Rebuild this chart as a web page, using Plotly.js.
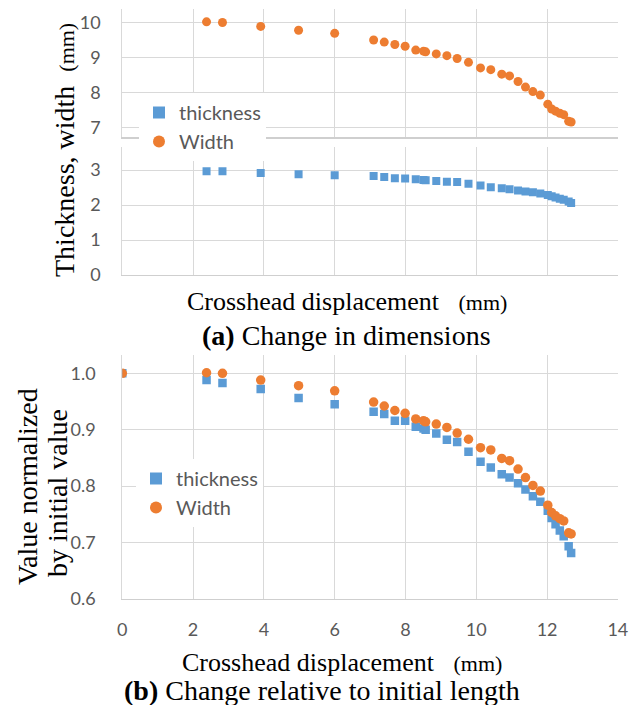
<!DOCTYPE html>
<html>
<head>
<meta charset="utf-8">
<script src="https://cdn.plot.ly/plotly-3.0.1.min.js"></script>
<style>
  html, body { margin: 0; padding: 0; background: #ffffff; }
  #chart { width: 630px; height: 705px; }
</style>
</head>
<body>
<div id="chart"></div>
<script>
// ---- data ----
const displacement = [0, 2.38, 2.83, 3.91, 4.98, 6.0, 7.10, 7.40, 7.70, 7.99, 8.29, 8.51, 8.57, 8.87, 9.17, 9.46, 9.78, 10.12, 10.41, 10.72, 10.94, 11.18, 11.39, 11.60, 11.81, 12.02, 12.13, 12.24, 12.36, 12.47, 12.61, 12.68];

// (a) dimensions in mm, measured from the second displacement value onwards
const widthMm = [10.02, 10.00, 9.89, 9.78, 9.69, 9.50, 9.44, 9.37, 9.32, 9.21, 9.18, 9.16, 9.10, 9.05, 8.97, 8.86, 8.70, 8.65, 8.52, 8.47, 8.31, 8.15, 8.02, 7.92, 7.66, 7.52, 7.46, 7.40, 7.36, 7.17, 7.15];
const thicknessMm = [2.97, 2.97, 2.92, 2.88, 2.85, 2.83, 2.80, 2.77, 2.76, 2.74, 2.72, 2.71, 2.69, 2.67, 2.66, 2.61, 2.56, 2.51, 2.48, 2.45, 2.42, 2.39, 2.37, 2.33, 2.29, 2.25, 2.22, 2.18, 2.15, 2.10, 2.06];

// (b) normalized by initial value
const widthNorm = [1.0, 1.001, 1.0, 0.988, 0.978, 0.969, 0.949, 0.942, 0.934, 0.929, 0.919, 0.916, 0.914, 0.910, 0.904, 0.894, 0.883, 0.868, 0.864, 0.849, 0.845, 0.830, 0.815, 0.801, 0.791, 0.766, 0.753, 0.747, 0.742, 0.738, 0.717, 0.715];
const thicknessNorm = [1.0, 0.988, 0.983, 0.972, 0.956, 0.945, 0.932, 0.928, 0.916, 0.916, 0.905, 0.902, 0.900, 0.893, 0.882, 0.878, 0.861, 0.843, 0.833, 0.821, 0.815, 0.805, 0.794, 0.782, 0.772, 0.756, 0.743, 0.732, 0.721, 0.711, 0.693, 0.681];

const seriesNames = ["thickness", "Width"];
const xTitle = "Crosshead displacement";
const unitText = "(mm)";
const yTitleTop = "Thickness, width";
const yTitleBottom = ["Value normalized", "by initial value"];
const captionA = ["(a)", "Change in dimensions"];
const captionB = ["(b)", "Change relative to initial length"];

// ---- styling ----
const BLUE = "#5B9BD5";
const ORANGE = "#ED7D31";
const GRID = "#D9D9D9";
const TICKFONT = { family: "Lato, Carlito, Calibri, sans-serif", size: 18, color: "#595959" };
const LEGFONT = { family: "Lato, Carlito, Calibri, sans-serif", size: 20, color: "#595959" };
const SERIF = "Liberation Serif, Times New Roman, serif";

const W = 630, H = 705;
const px = v => v / W;
const py = v => 1 - v / H;
const xDomain = [px(122.3), px(617.9)];

const dimsX = displacement.slice(1);

const traces = [
  { x: dimsX, y: thicknessMm, xaxis: "x2", yaxis: "y2", type: "scatter", mode: "markers",
    name: seriesNames[0], legend: "legend",
    marker: { symbol: "square", size: 8, color: BLUE } },
  { x: dimsX, y: widthMm, xaxis: "x", yaxis: "y", type: "scatter", mode: "markers",
    name: seriesNames[1], legend: "legend",
    marker: { symbol: "circle", size: 9, color: ORANGE } },
  { x: displacement, y: thicknessNorm, xaxis: "x3", yaxis: "y3", type: "scatter", mode: "markers",
    name: seriesNames[0], legend: "legend2",
    marker: { symbol: "square", size: 8.5, color: BLUE } },
  { x: displacement, y: widthNorm, xaxis: "x3", yaxis: "y3", type: "scatter", mode: "markers",
    name: seriesNames[1], legend: "legend2",
    marker: { symbol: "circle", size: 9.5, color: ORANGE } }
];

function xAxisBase(anchor, labels) {
  return {
    domain: xDomain, anchor: anchor, range: [0, 14.001], dtick: 2, tick0: 0,
    showgrid: true, gridcolor: GRID, gridwidth: 1, zeroline: false,
    showline: true, linecolor: "#CFCFCF", linewidth: 1.2,
    showticklabels: labels, ticks: "", tickfont: TICKFONT, ticklabelstandoff: 14
  };
}
function yAxisBase(anchor, domain, range, dtick, standoff) {
  return {
    domain: domain, anchor: anchor, range: range, dtick: dtick, tick0: 0,
    showgrid: true, gridcolor: GRID, gridwidth: 1, zeroline: false,
    showline: true, linecolor: GRID, linewidth: 1,
    ticks: "", tickfont: TICKFONT, ticklabelstandoff: standoff
  };
}

const small = s => "<span style='font-size:22px'>" + s + "</span>";
const sp = "\u00a0\u00a0\u00a0";

const layout = {
  width: W, height: H,
  margin: { l: 0, r: 0, t: 0, b: 0 },
  paper_bgcolor: "#ffffff", plot_bgcolor: "#ffffff",
  showlegend: true,
  xaxis: xAxisBase("y", false),
  yaxis: yAxisBase("x", [py(137.3), py(9.3)], [6.71, 10.38], 1, 17),
  xaxis2: xAxisBase("y2", false),
  yaxis2: yAxisBase("x2", [py(275), py(146.7)], [0, 3.67], 1, 17),
  xaxis3: xAxisBase("y3", true),
  yaxis3: Object.assign(yAxisBase("x3", [py(598.7), py(355)], [0.6, 1.0325], 0.1, 22), { tickformat: ".1f" }),
  legend: {
    x: px(139), y: py(93), xanchor: "left", yanchor: "top",
    bgcolor: "#ffffff", borderwidth: 0, itemsizing: "constant",
    font: LEGFONT, tracegroupgap: 0, itemwidth: 30
  },
  legend2: {
    x: px(136), y: py(459), xanchor: "left", yanchor: "top",
    bgcolor: "#ffffff", borderwidth: 0, itemsizing: "constant",
    font: LEGFONT, tracegroupgap: 0, itemwidth: 30
  },
  annotations: [
    { text: xTitle + sp + small(unitText), xref: "paper", yref: "paper",
      x: px(347), y: py(302), xanchor: "center", yanchor: "middle", showarrow: false,
      font: { family: SERIF, size: 26, color: "#000000" } },
    { text: "<b>" + captionA[0] + "</b> " + captionA[1], xref: "paper", yref: "paper",
      x: px(346), y: py(335), xanchor: "center", yanchor: "middle", showarrow: false,
      font: { family: SERIF, size: 28, color: "#000000" } },
    { text: xTitle + sp + small(unitText), xref: "paper", yref: "paper",
      x: px(342), y: py(662), xanchor: "center", yanchor: "middle", showarrow: false,
      font: { family: SERIF, size: 26, color: "#000000" } },
    { text: "<b>" + captionB[0] + "</b> " + captionB[1], xref: "paper", yref: "paper",
      x: px(322), y: py(690), xanchor: "center", yanchor: "middle", showarrow: false,
      font: { family: SERIF, size: 28, color: "#000000" } },
    { text: yTitleTop + "\u00a0\u00a0" + small(unitText), xref: "paper", yref: "paper",
      x: px(65), y: py(150), xanchor: "center", yanchor: "middle", textangle: -90, showarrow: false,
      font: { family: SERIF, size: 28, color: "#000000" } },
    { text: yTitleBottom[0], xref: "paper", yref: "paper",
      x: px(27), y: py(487), xanchor: "center", yanchor: "middle", textangle: -90, showarrow: false,
      font: { family: SERIF, size: 28, color: "#000000" } },
    { text: yTitleBottom[1], xref: "paper", yref: "paper",
      x: px(57), y: py(493), xanchor: "center", yanchor: "middle", textangle: -90, showarrow: false,
      font: { family: SERIF, size: 28, color: "#000000" } }
  ]
};

Plotly.newPlot("chart", traces, layout, { displayModeBar: false, staticPlot: true });
</script>
</body>
</html>
